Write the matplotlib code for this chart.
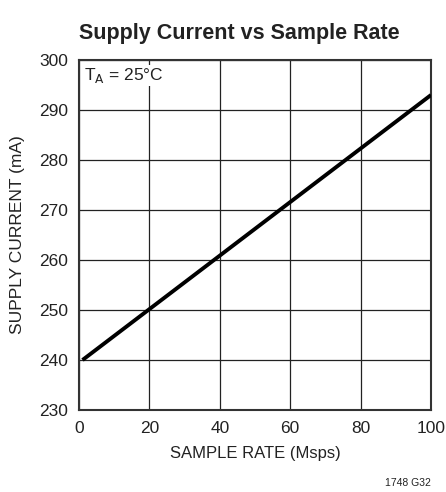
import matplotlib
matplotlib.use("Agg")
import matplotlib.pyplot as plt
from matplotlib import font_manager

names = {f.name for f in font_manager.fontManager.ttflist}
narrow = "Liberation Sans Narrow" if "Liberation Sans Narrow" in names else "Liberation Sans"
plt.rcParams['font.family'] = [narrow, 'DejaVu Sans']

sample_rate = [1, 100]
supply_current = [240, 293]
x_ticks = [0, 20, 40, 60, 80, 100]
y_ticks = [230, 240, 250, 260, 270, 280, 290, 300]

fig = plt.figure(figsize=(4.46, 4.92), dpi=100)
ax = fig.add_axes([79/446, 82/492, 352/446, 350/492])
ax.plot(sample_rate, supply_current, color='black', lw=2.8, solid_capstyle='butt', zorder=3)
ax.set_xlim(0, 100)
ax.set_ylim(230, 300)
ax.set_xticks(x_ticks)
ax.set_yticks(y_ticks)
ax.grid(True, color='#222222', lw=0.9)
ax.tick_params(length=0, labelsize=12.5, pad=8, colors='#222222')
for s in ax.spines.values():
    s.set_linewidth(1.5)
    s.set_color('#333333')
ax.set_xlabel('SAMPLE RATE (Msps)', fontsize=12, color='#222222', labelpad=7)
ax.set_ylabel('SUPPLY CURRENT (mA)', fontsize=12.5, color='#222222', labelpad=10)
ax.text(1.5, 298.8, r'T$_{\mathrm{A}}$ = 25°C', fontsize=12.5, color='#222222', va='top', ha='left',
        bbox=dict(facecolor='white', edgecolor='none', pad=1), zorder=4)
fig.text(239/446, 1 - 33/492, 'Supply Current vs Sample Rate', fontsize=15.5, fontweight='bold',
         ha='center', va='center', color='#222222')
fig.text(431/446, 1 - 488/492, '1748 G32', fontsize=7.5, ha='right', va='bottom', color='#222222')
fig.savefig('out.png', dpi=100)
